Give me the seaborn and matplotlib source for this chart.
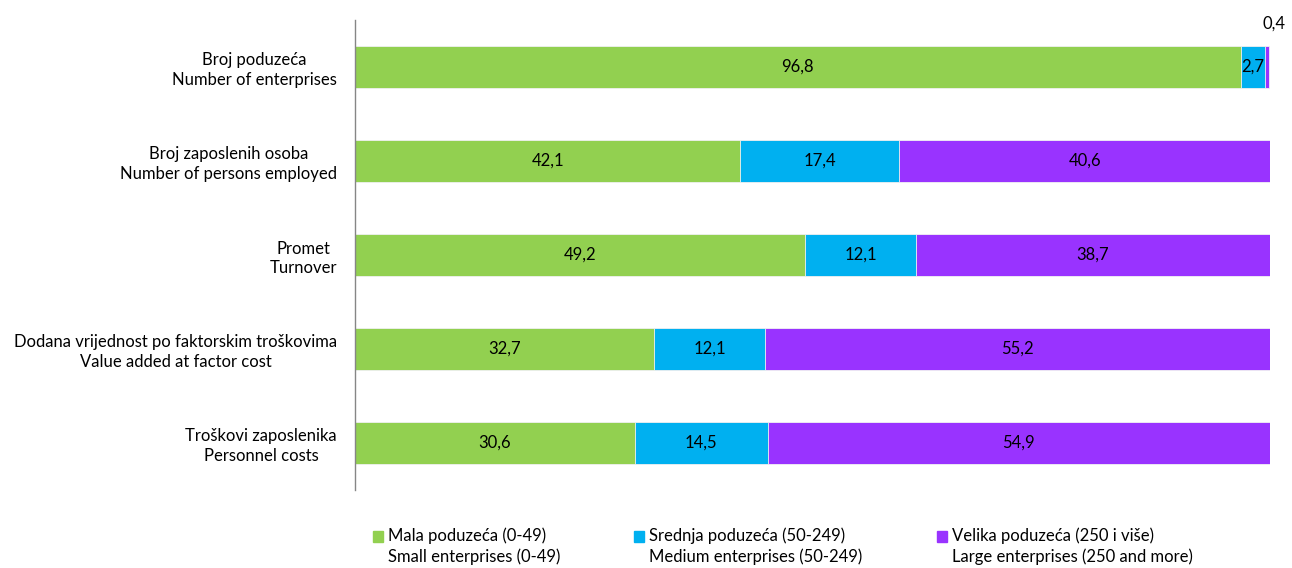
import seaborn as sns
import pandas as pd
import matplotlib.pyplot as plt
from matplotlib.patches import Rectangle

# categories (two-line labels: Croatian / English)
categories = [
    'Broj poduzeća\nNumber of enterprises',
    'Broj zaposlenih osoba\nNumber of persons employed',
    'Promet\nTurnover',
    'Dodana vrijednost po faktorskim troškovima\nValue added at factor cost',
    'Troškovi zaposlenika\nPersonnel costs',
]

small = [96.8, 42.1, 49.2, 32.7, 30.6]
medium = [2.7, 17.4, 12.1, 12.1, 14.5]
large = [0.4, 40.6, 38.7, 55.2, 54.9]

series_hr = ['Mala poduzeća (0-49)', 'Srednja poduzeća (50-249)', 'Velika poduzeća (250 i više)']
series_en = ['Small enterprises (0-49)', 'Medium enterprises (50-249)', 'Large enterprises (250 and more)']
colors = ['#92D050', '#00B0F0', '#9933FF']


def fmt(v):
    return f'{v:.1f}'.replace('.', ',')


def main():
    sns.set_style('white')
    plt.rcParams['font.family'] = ['Lato', 'DejaVu Sans']
    plt.rcParams['text.color'] = 'black'
    plt.rcParams['ytick.color'] = 'black'
    fs = 12

    df = pd.DataFrame({'cat': categories, 'small': small, 'medium': medium, 'large': large})
    df['cum1'] = df['small']
    df['cum2'] = df['small'] + df['medium']
    df['cum3'] = df['cum2'] + df['large']

    fig = plt.figure(figsize=(12.92, 5.68), dpi=100)
    ax = fig.add_axes([355 / 1292, 1 - 490 / 568, 915 / 1292, 470 / 568])

    # stacked bars drawn as overlaid cumulative totals
    for col, color in zip(['cum3', 'cum2', 'cum1'], colors[::-1]):
        sns.barplot(data=df, y='cat', x=col, orient='h', color=color, saturation=1,
                    width=0.45, edgecolor='#f2f2f2', linewidth=0.6, ax=ax)

    # value labels at segment centres
    for i, row in df.iterrows():
        starts = [0, row['cum1'], row['cum2']]
        vals = [row['small'], row['medium'], row['large']]
        for s, v in zip(starts, vals):
            if v < 1:
                ax.text(row['cum3'] + 0.5, i - 0.46, fmt(v), ha='center', va='center',
                        fontsize=fs, clip_on=False)
            else:
                ax.text(s + v / 2, i, fmt(v), ha='center', va='center', fontsize=fs)

    ax.set_xlim(0, 100)
    ax.set_xlabel('')
    ax.set_ylabel('')
    ax.set_xticks([])
    ax.tick_params(axis='y', length=0, pad=13, labelsize=fs)
    for lab in ax.get_yticklabels():
        lab.set_multialignment('center')
        lab.set_linespacing(1.3)
    for side in ['top', 'right', 'bottom']:
        ax.spines[side].set_visible(False)
    ax.spines['left'].set_color('#868686')
    ax.spines['left'].set_linewidth(1)

    # legend
    sq_x = [373, 634, 937]
    for x, c, hr, en in zip(sq_x, colors, series_hr, series_en):
        fig.add_artist(Rectangle((x / 1292, 1 - 542 / 568), 10 / 1292, 11 / 568,
                                 transform=fig.transFigure, color=c))
        fig.text((x + 15) / 1292, 1 - 536 / 568, hr, ha='left', va='center', fontsize=fs)
        fig.text((x + 15) / 1292, 1 - 557 / 568, en, ha='left', va='center', fontsize=fs)

    fig.savefig('out.png', dpi=100)


if __name__ == '__main__':
    main()
